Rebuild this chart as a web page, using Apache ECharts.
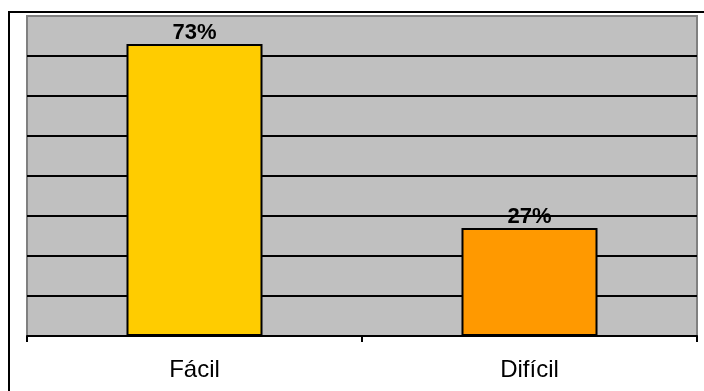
<!DOCTYPE html>
<html lang="es">
<head>
    <meta charset="UTF-8">
    <title>Fácil / Difícil</title>
    <style>
        html, body { margin: 0; padding: 0; background: #fff; }
        #chart { width: 704px; height: 391px; }
    </style>
</head>
<body>
    <div id="chart"></div>
    <script src="https://cdn.jsdelivr.net/npm/echarts@6/dist/echarts.min.js"></script>
    <script>
        // datos
        var categorias = ['Fácil', 'Difícil'];
        var valores = [73, 27];
        var colores = ['#FFCC00', '#FF9900'];
        var ejeMax = 80, ejePaso = 10;

        var fuente = "'Liberation Sans', Arial, sans-serif";
        var myChart = echarts.init(document.getElementById('chart'));

        // lineas de division: la de arriba queda gris como el borde
        var coloresLinea = [];
        for (var i = 0; i <= ejeMax / ejePaso; i++) {
            coloresLinea.push(i === ejeMax / ejePaso ? '#808080' : '#000000');
        }

        var option = {
            animation: false,
            graphic: [{
                type: 'rect',
                shape: { x: 9, y: 12, width: 800, height: 500 },
                style: { fill: 'none', stroke: '#000', lineWidth: 2 },
                z: -1
            }],
            grid: {
                left: 27, top: 16, right: 7, bottom: 55,
                show: true,
                backgroundColor: '#C0C0C0',
                borderColor: '#808080',
                borderWidth: 2
            },
            xAxis: {
                type: 'category',
                data: categorias,
                axisLine: { lineStyle: { color: '#000', width: 2 } },
                axisTick: { show: true, alignWithLabel: false, interval: 0, length: 6, lineStyle: { color: '#000', width: 2 } },
                axisLabel: { color: '#000', fontSize: 24, fontFamily: fuente, margin: 22 }
            },
            yAxis: {
                type: 'value',
                min: 0, max: ejeMax, interval: ejePaso,
                axisLine: { show: false },
                axisTick: { show: false },
                axisLabel: { show: false },
                splitLine: { lineStyle: { color: coloresLinea, width: 2 } }
            },
            series: [{
                type: 'bar',
                barWidth: '40.6%',
                data: valores.map(function (v, i) {
                    return { value: v, itemStyle: { color: colores[i] } };
                }),
                itemStyle: { borderColor: '#000', borderWidth: 2 },
                label: {
                    show: true,
                    position: 'top',
                    distance: 0,
                    formatter: '{c}%',
                    color: '#000',
                    fontWeight: 'bold',
                    fontSize: 22,
                    fontFamily: fuente
                }
            }]
        };
        myChart.setOption(option);
    </script>
</body>
</html>
